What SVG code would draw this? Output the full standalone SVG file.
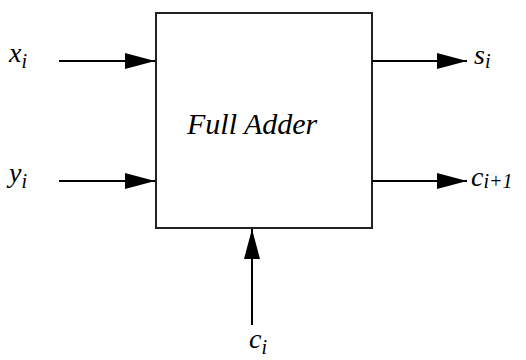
<svg xmlns="http://www.w3.org/2000/svg" width="526" height="360" viewBox="0 0 526 360">
<g id="full-adder">
<rect x="156" y="13" width="216" height="215" fill="#fff" stroke="#222" stroke-width="2"/>
<text x="187" y="134" font-family="Times New Roman" font-style="italic" font-size="30">Full Adder</text>
</g>
<g id="x_i"><text x="9" y="62" font-family="Times New Roman" font-style="italic" font-size="28">x<tspan font-size="20" dy="6">i</tspan></text></g>
<g id="y_i"><text x="9" y="182" font-family="Times New Roman" font-style="italic" font-size="28">y<tspan font-size="20" dy="6">i</tspan></text></g>
<g id="s_i"><text x="474" y="64" font-family="Times New Roman" font-style="italic" font-size="28">s<tspan font-size="20" dy="4">i</tspan></text></g>
<g id="c_i1"><text x="471" y="186" font-family="Times New Roman" font-style="italic" font-size="28">c<tspan font-size="20" dy="2">i+1</tspan></text></g>
<g id="c_i"><text x="249" y="348" font-family="Times New Roman" font-style="italic" font-size="28">c<tspan font-size="20" dy="6">i</tspan></text></g>
<g id="connectors" stroke="#000" stroke-width="2" fill="none" marker-end="url(#ah)">
<line x1="59" y1="61" x2="155" y2="61"/>
<line x1="59" y1="181" x2="155" y2="181"/>
<line x1="372" y1="61" x2="467" y2="61"/>
<line x1="372" y1="181" x2="467" y2="181"/>
<line x1="252" y1="325" x2="252" y2="229"/>
</g>
<defs>
<marker id="ah" viewBox="0 0 30 16" refX="30" refY="8" markerWidth="30" markerHeight="16" markerUnits="userSpaceOnUse" orient="auto">
<path d="M0,0 L30,8 L0,16 Z" fill="#000"/>
</marker>
</defs>
</svg>
